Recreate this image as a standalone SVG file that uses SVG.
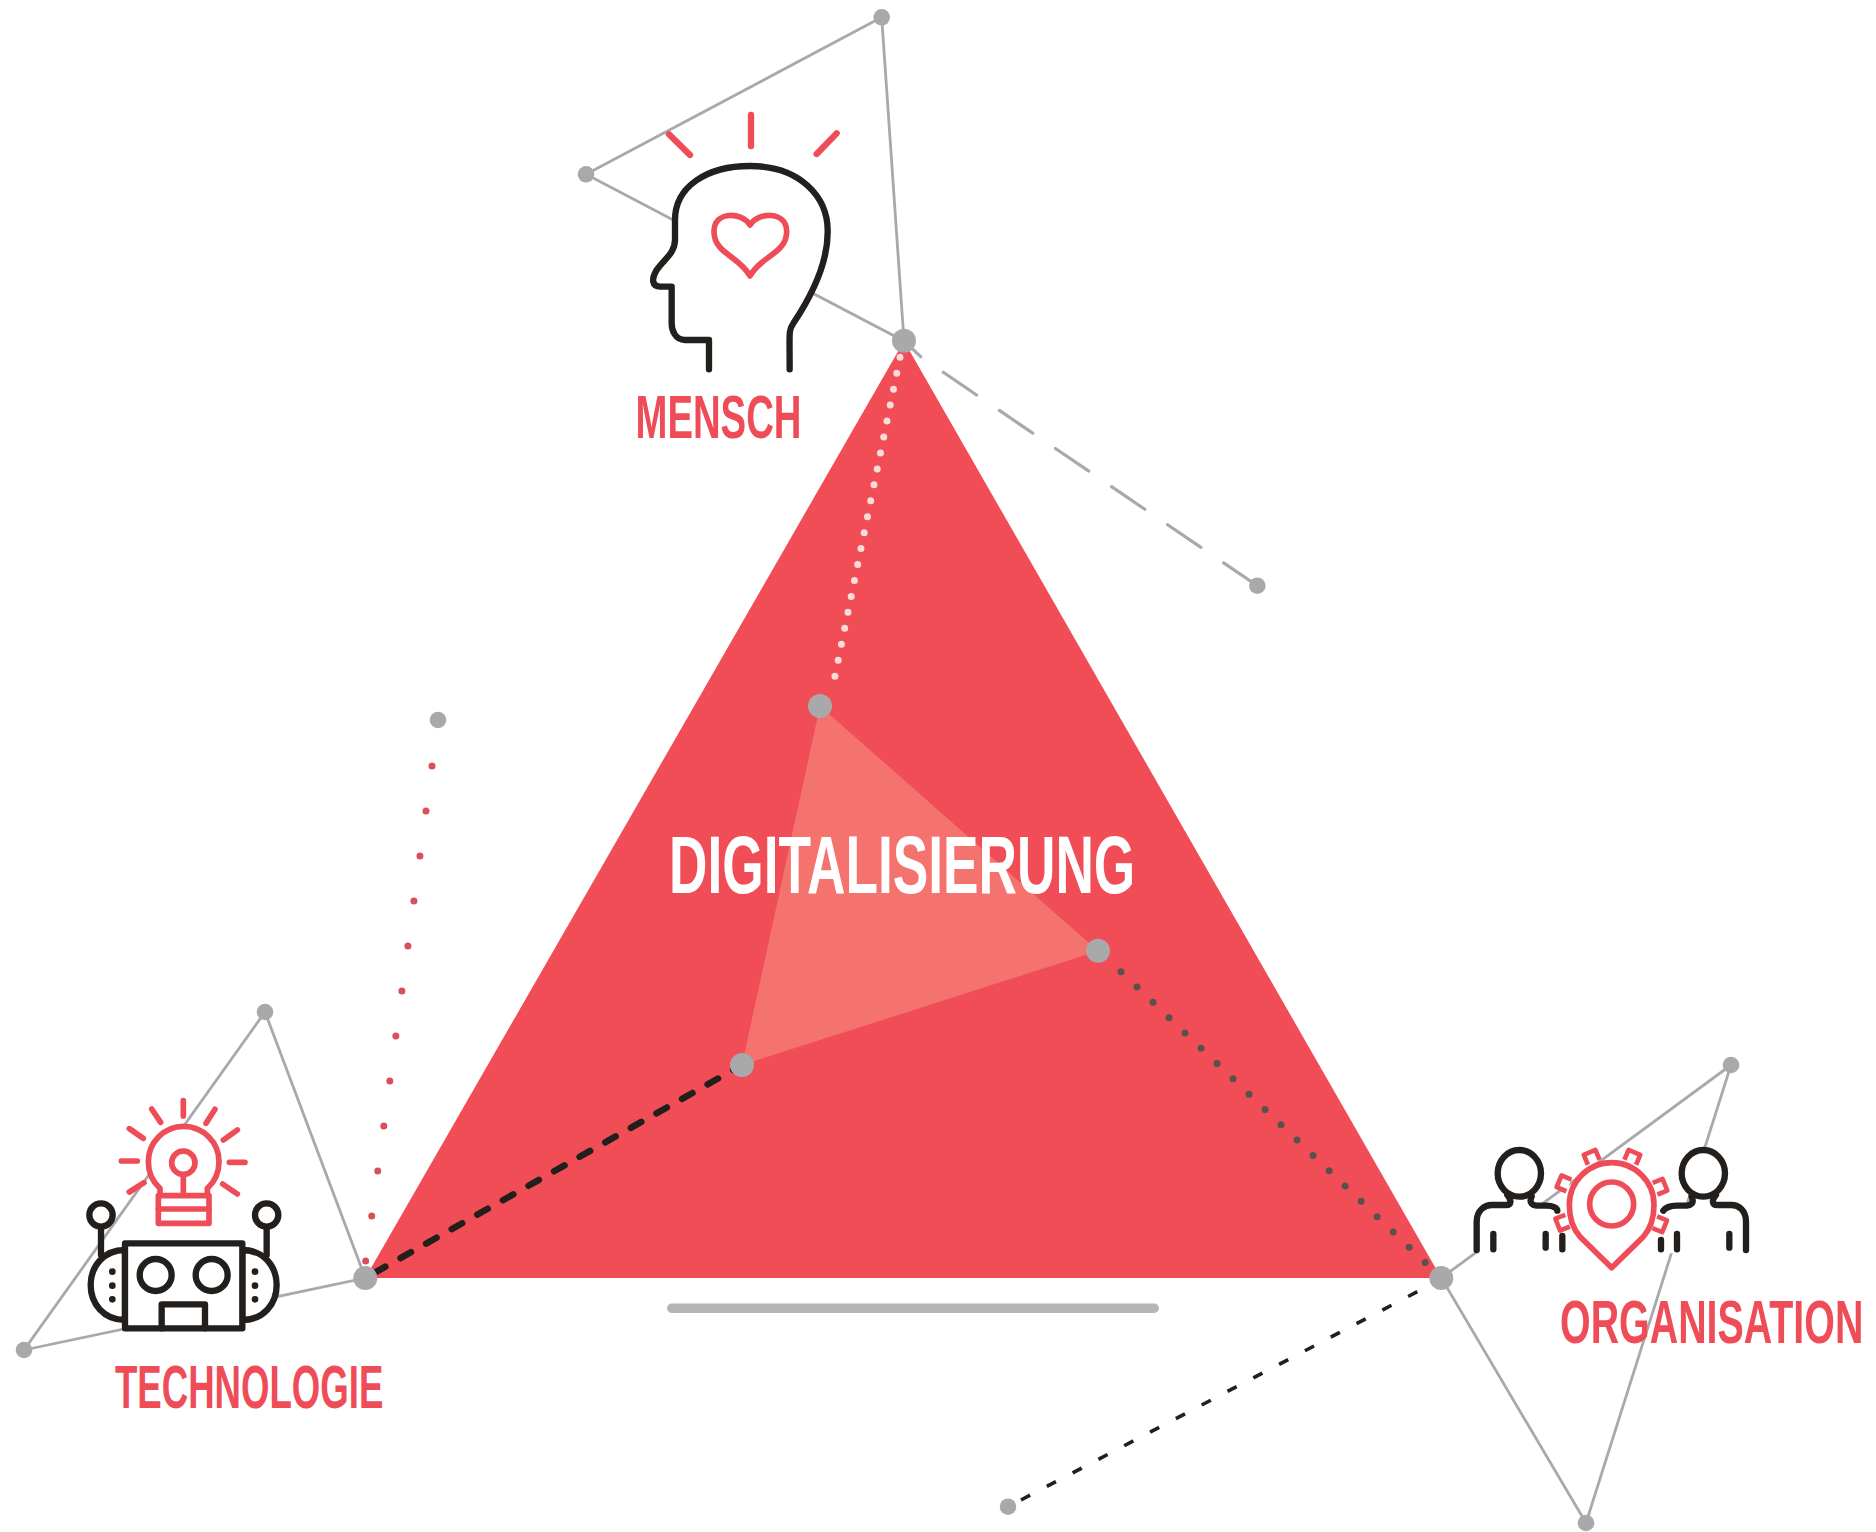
<svg xmlns="http://www.w3.org/2000/svg" width="1876" height="1532" viewBox="0 0 1876 1532">
<style>
.g{stroke:#a9a9ab;stroke-width:2.8;fill:none}
.p{fill:#a9a9ab}
.k{fill:#fff;stroke:#231f1c;stroke-width:19;stroke-linecap:round;stroke-linejoin:round}
.kl{fill:none;stroke:#231f1c;stroke-width:19;stroke-linecap:round;stroke-linejoin:round}
.r{fill:#fff;stroke:#ee4d58;stroke-width:17;stroke-linecap:round;stroke-linejoin:round}
.rl{fill:none;stroke:#ee4d58;stroke-width:17;stroke-linecap:round;stroke-linejoin:round}
.w{fill:#fff;stroke:none}
.t{font-family:"Liberation Sans",Arial,sans-serif;font-weight:700;font-size:60.6px;fill:#ee4d58}
</style>
<defs>
<path id="tooth" d="M-19,16V-16H19V16" fill="#fff" stroke="#ee4d58" stroke-width="14" stroke-linejoin="round"/>
</defs>
<rect width="1876" height="1532" fill="#fff"/>
<g id="connectors">
<path class="g" d="M904,341L881.700,17.300L586,174.300Z"/>
<path class="g" d="M365.300,1278L265,1012L24,1350Z"/>
<path class="g" d="M1441.300,1278L1731,1065L1586,1523Z"/>
</g>
<g id="triangle">
<path d="M904,341L1441.300,1278H365.300Z" fill="#f14d56"/>
<path d="M820,706L1098,951L742,1065Z" fill="#f4736f"/>
</g>
<g id="bar"><rect x="667" y="1303.500" width="492" height="9.500" rx="4.700" fill="#b5b5b5"/></g>
<g id="dashes" fill="none">
<path d="M904,341L920.700,356.700M943.300,372.300L1257.300,585.700" stroke="#a9a9ab" stroke-width="3.200" stroke-linecap="round" stroke-dasharray="40.300 27.500"/>
<line x1="900" y1="357.300" x2="831.700" y2="692" stroke="#f7dcdc" stroke-width="7" stroke-linecap="round" stroke-dasharray="0 16.270"/>
<line x1="1121" y1="971.700" x2="1425.300" y2="1262.700" stroke="#59504f" stroke-width="7" stroke-linecap="round" stroke-dasharray="0 22.150"/>
<line x1="432" y1="766" x2="365.700" y2="1261" stroke="#d8505a" stroke-width="7" stroke-linecap="round" stroke-dasharray="0 45.400"/>
<line x1="742" y1="1065" x2="365.300" y2="1278" stroke="#231f1c" stroke-width="6.500" stroke-linecap="round" stroke-dasharray="12 17.400" stroke-dashoffset="1.900"/>
<line x1="1021" y1="1500" x2="1417.300" y2="1291.700" stroke="#231f1c" stroke-width="3.600" stroke-dasharray="10.300 18.860"/>
</g>
<g id="points">
<circle class="p" cx="881.700" cy="17.300" r="8.300"/>
<circle class="p" cx="586" cy="174.300" r="8.300"/>
<circle class="p" cx="904" cy="340.700" r="12"/>
<circle class="p" cx="1257.300" cy="585.700" r="8.300"/>
<circle class="p" cx="438" cy="720" r="8.300"/>
<circle class="p" cx="820" cy="706" r="12"/>
<circle class="p" cx="1098" cy="950.700" r="12"/>
<circle class="p" cx="742" cy="1065" r="12"/>
<circle class="p" cx="265" cy="1012" r="8.300"/>
<circle class="p" cx="24" cy="1350" r="8.300"/>
<circle class="p" cx="365.300" cy="1278" r="12"/>
<circle class="p" cx="1441.300" cy="1278" r="12"/>
<circle class="p" cx="1731" cy="1065" r="8.300"/>
<circle class="p" cx="1586" cy="1523" r="8.300"/>
<circle class="p" cx="1008" cy="1506.700" r="8.300"/>
</g>
<g id="node-mensch">
<g transform="translate(560 0) scale(.33333)">
<path class="k" d="M447,1108V1020H375C345,1020 335,990 335,970V860H300C278,860 272,840 290,810C310,780 345,760 345,720V660C345,560 440,498 570,498C720,498 802,590 803,690C805,780 760,880 700,970C685,990 689,1000 689,1108"/>
<path class="r" d="M570,675C545,635 462,632 462,695C462,760 540,770 570,828C600,770 680,760 680,695C680,632 595,635 570,675Z"/>
<path class="rl" d="M327,403L390,465M573,345V438M770,462L830,400" style="stroke-width:19"/>
</g>
<text class="t" transform="translate(635.500 438) scale(.632 1)">MENSCH</text>
</g>
<g id="node-technologie">
<g transform="translate(0 990) scale(.33333)">
<path class="kl" d="M303,710V795M800,710V795"/>
<circle class="k" cx="303" cy="675" r="35"/>
<circle class="k" cx="800" cy="675" r="35"/>
<path class="k" d="M375,780C310,780 272,830 272,885C272,940 310,990 375,990Z"/>
<path class="k" d="M727,780C792,780 830,830 830,885C830,940 792,990 727,990Z"/>
<rect class="k" x="375" y="760" width="352" height="255"/>
<circle class="k" cx="467" cy="855" r="48"/>
<circle class="k" cx="635" cy="855" r="48"/>
<path class="kl" d="M485,1015V943H615V1015"/>
<path d="M337,845v.1M337,887v.1M337,928v.1M765,845v.1M765,887v.1M765,928v.1" stroke="#231f1c" stroke-width="20" stroke-linecap="round" fill="none"/>
<path class="r" d="M480,615V595C458,575 445,550 445,515A106,106 0 0 1 657,515C657,550 644,575 622,595V615"/>
<rect class="r" x="475" y="617" width="152" height="83"/>
<path class="rl" d="M475,657H627M550,615V545"/>
<circle class="r" cx="550" cy="518" r="35"/>
<path class="rl" d="M550,332V378M455,357L482,397M645,358L618,400M388,416L430,445M712,420L670,450M364,513H412M688,517H735M388,606L432,578M712,612L668,582"/>
</g>
<text class="t" transform="translate(115 1408) scale(.604 1)">TECHNOLOGIE</text>
</g>
<g id="node-organisation">
<g transform="translate(1420 1040) scale(.33333)">
<path class="w" d="M170,497H412V640H170ZM735,497H978V640H735ZM260,450H340V500H260ZM810,450H890V500H810Z"/>
<path class="kl" d="M170,630V545C170,510 195,495 215,495H258C275,495 275,480 262,465M335,470C325,490 340,496 350,497H380C400,497 412,505 412,512"/>
<path class="kl" d="M978,630V545C978,510 955,495 935,495H892C875,495 875,480 888,465M815,470C825,490 810,496 800,497H770C750,497 735,505 730,512"/>
<ellipse class="k" cx="298" cy="400" rx="65" ry="70"/>
<ellipse class="k" cx="850" cy="400" rx="65" ry="70"/>
<path class="kl" d="M220,582V628M377,582V623M427,588V628M723,600V628M771,582V628M928,582V623"/>
<use href="#tooth" transform="translate(515 352) rotate(-23)"/>
<use href="#tooth" transform="translate(637 352) rotate(23)"/>
<use href="#tooth" transform="translate(432 430) rotate(-67)"/>
<use href="#tooth" transform="translate(720 440) rotate(68)"/>
<use href="#tooth" transform="translate(428 548) rotate(-111)"/>
<use href="#tooth" transform="translate(719 553) rotate(112)"/>
<path class="r" d="M575,683L480,590C458,565 448,535 448,495A127,127 0 0 1 702,495C702,535 692,565 670,590Z"/>
<circle class="r" cx="575" cy="492" r="66"/>
</g>
<text class="t" transform="translate(1560 1343) scale(.65 1)">ORGANISATION</text>
</g>
<g id="node-digitalisierung">
<text transform="translate(669 893) scale(.646 1)" font-family="'Liberation Sans',Arial,sans-serif" font-weight="700" font-size="82.4" fill="#fff">DIGITALISIERUNG</text>
</g>
</svg>
